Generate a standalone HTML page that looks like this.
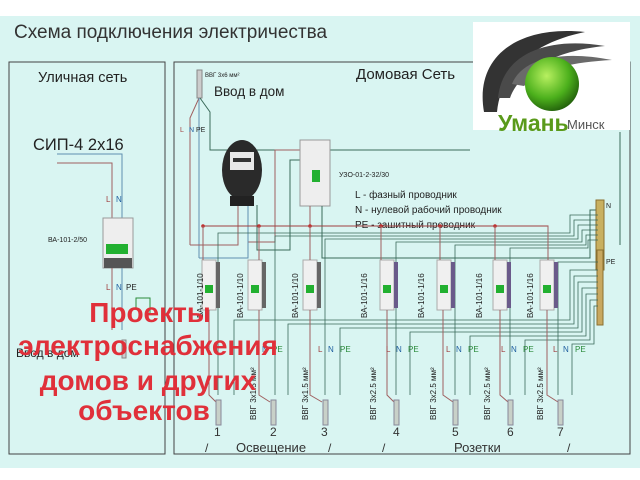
<!DOCTYPE html>
<html><head><meta charset="utf-8"><style>
html,body{margin:0;padding:0;background:#fff;}
svg{display:block;font-family:"Liberation Sans",sans-serif;}
</style></head><body>
<svg width="640" height="480" viewBox="0 0 640 480" xmlns="http://www.w3.org/2000/svg">
<defs>
<radialGradient id="g" cx="0.4" cy="0.35" r="0.7"><stop offset="0" stop-color="#b8f060"/><stop offset="0.6" stop-color="#4cb01c"/><stop offset="1" stop-color="#1f5a0a"/></radialGradient>
</defs>
<rect x="0" y="16" width="640" height="452" fill="#d9f5f2"/>
<text x="14" y="38" font-size="19" fill="#333">Схема подключения электричества</text>
<rect x="9" y="62" width="156" height="392" fill="none" stroke="#444" stroke-width="1"/>
<rect x="174" y="62" width="456" height="392" fill="none" stroke="#444" stroke-width="1"/>
<text x="38" y="82" font-size="14.5" fill="#222">Уличная сеть</text>
<text x="356" y="79" font-size="15" fill="#222">Домовая Сеть</text>
<text x="33" y="150" font-size="16.5" fill="#222">СИП-4   2x16</text>
<polyline points="57,163 112,163 112,220" fill="none" stroke="#a06060" stroke-width="1"/>
<polyline points="57,154 122,154 122,220" fill="none" stroke="#6090b0" stroke-width="1"/>
<text x="106" y="202" font-size="8" fill="#a04040">L</text><text x="116" y="202" font-size="8" fill="#2060a0">N</text>
<rect x="103" y="218" width="30" height="50" fill="#eee" stroke="#999"/>
<rect x="106" y="244" width="22" height="10" fill="#22b030"/>
<rect x="104" y="258" width="28" height="10" fill="#555"/>
<text x="48" y="242" font-size="7" fill="#222">ВА-101-2/50</text>
<line x1="112" y1="268" x2="112" y2="330" stroke="#a06060"/><line x1="122" y1="268" x2="122" y2="330" stroke="#6090b0"/>
<text x="106" y="290" font-size="8" fill="#a04040">L</text><text x="116" y="290" font-size="8" fill="#2060a0">N</text><text x="126" y="290" font-size="8" fill="#222">PE</text>
<polyline points="136,310 136,298 150,298 150,315" fill="none" stroke="#2a8a3a"/>
<rect x="122" y="340" width="4" height="18" fill="#ccc" stroke="#888"/>
<rect x="197" y="70" width="5" height="28" fill="#ccc" stroke="#888"/>
<text x="205" y="77" font-size="6" fill="#222">ВВГ 3x6 мм²</text>
<text x="214" y="96" font-size="13.5" fill="#222">Ввод в дом</text>
<polyline points="199,98 190,118 190,245" fill="none" stroke="#a06060"/>
<polyline points="199,98 199,258" fill="none" stroke="#6090b0"/>
<polyline points="200,98 210,112 210,150 470,150" fill="none" stroke="#3a6a5a"/>
<line x1="620" y1="132" x2="620" y2="245" stroke="#3a6a5a"/>
<text x="180" y="132" font-size="7" fill="#a04040">L</text><text x="189" y="132" font-size="7" fill="#2060a0">N</text><text x="196" y="132" font-size="7" fill="#222">PE</text>
<polyline points="190,245 238,245 238,205" fill="none" stroke="#a06060"/>
<polyline points="248,205 248,242 275,242 275,150 310,150 310,200" fill="none" stroke="#a06060"/>
<polyline points="199,258 248,258 248,205" fill="none" stroke="#6090b0"/>
<polyline points="257,205 257,250 290,250 290,160 320,160" fill="none" stroke="#3a6a5a"/>
<ellipse cx="242" cy="170" rx="20" ry="30" fill="#2a2a2a"/>
<rect x="230" y="152" width="24" height="18" fill="#e8e8e8"/>
<rect x="233" y="158" width="18" height="4" fill="#333"/>
<rect x="230" y="196" width="24" height="10" fill="#222"/>
<rect x="300" y="140" width="30" height="66" fill="#eee" stroke="#999"/>
<rect x="312" y="170" width="8" height="12" fill="#22b030"/>
<text x="339" y="177" font-size="7" fill="#222">УЗО-01-2-32/30</text>
<text x="355" y="198" font-size="10" fill="#222">L - фазный проводник</text>
<text x="355" y="213" font-size="10" fill="#222">N - нулевой рабочий проводник</text>
<text x="355" y="228" font-size="10" fill="#222">PE - зашитный проводник</text>
<polyline points="322,206 322,258 590,258 590,210 598,210" fill="none" stroke="#3a6a5a"/>
<line x1="310" y1="206" x2="310" y2="226" stroke="#a06060"/>
<rect x="596" y="200" width="8" height="70" fill="#c8b060" stroke="#8a7030"/>
<text x="606" y="208" font-size="7" fill="#222">N</text>
<rect x="597" y="250" width="6" height="75" fill="#c8a860" stroke="#8a7030"/>
<text x="606" y="264" font-size="7" fill="#222">PE</text>
<polyline points="203,226 548,226 548,230" fill="none" stroke="#a04040"/>
<g fill="#c03030"><circle cx="203" cy="226" r="1.8"/><circle cx="259" cy="226" r="1.8"/><circle cx="310" cy="226" r="1.8"/><circle cx="381" cy="226" r="1.8"/><circle cx="440" cy="226" r="1.8"/><circle cx="495" cy="226" r="1.8"/></g>
<g fill="none" stroke="#3a6a5a" stroke-width="0.8">
<polyline points="598,215 570,215 570,233 218,233 218,395"/>
<polyline points="598,220 574,220 574,236 275,236 275,395"/>
<polyline points="598,225 578,225 578,239 325,239 325,395"/>
<polyline points="598,230 582,230 582,242 396,242 396,395"/>
<polyline points="598,235 586,235 586,245 455,245 455,395"/>
<polyline points="598,240 588,240 588,248 510,248 510,395"/>
<polyline points="598,262 558,262 558,395"/>
<polyline points="598,270 570,270 570,320 234,320 234,395"/>
<polyline points="598,276 574,276 574,324 288,324 288,395"/>
<polyline points="598,282 578,282 578,328 340,328 340,395"/>
<polyline points="598,288 582,288 582,332 410,332 410,395"/>
<polyline points="598,294 586,294 586,336 470,336 470,395"/>
<polyline points="598,300 590,300 590,340 525,340 525,395"/>
<polyline points="598,306 594,306 594,344 572,344 572,395"/>
</g>
<g>
<g transform="translate(202,260)"><rect width="14" height="50" fill="#f0f0f0" stroke="#aaa"/><rect x="14" y="2" width="4" height="46" fill="#666"/><rect x="3" y="25" width="8" height="8" fill="#22b030"/></g>
<g transform="translate(248,260)"><rect width="14" height="50" fill="#f0f0f0" stroke="#aaa"/><rect x="14" y="2" width="4" height="46" fill="#666"/><rect x="3" y="25" width="8" height="8" fill="#22b030"/></g>
<g transform="translate(303,260)"><rect width="14" height="50" fill="#f0f0f0" stroke="#aaa"/><rect x="14" y="2" width="4" height="46" fill="#666"/><rect x="3" y="25" width="8" height="8" fill="#22b030"/></g>
<g transform="translate(380,260)"><rect width="14" height="50" fill="#f0f0f0" stroke="#aaa"/><rect x="14" y="2" width="4" height="46" fill="#6a5a8a"/><rect x="3" y="25" width="8" height="8" fill="#22b030"/></g>
<g transform="translate(437,260)"><rect width="14" height="50" fill="#f0f0f0" stroke="#aaa"/><rect x="14" y="2" width="4" height="46" fill="#6a5a8a"/><rect x="3" y="25" width="8" height="8" fill="#22b030"/></g>
<g transform="translate(493,260)"><rect width="14" height="50" fill="#f0f0f0" stroke="#aaa"/><rect x="14" y="2" width="4" height="46" fill="#6a5a8a"/><rect x="3" y="25" width="8" height="8" fill="#22b030"/></g>
<g transform="translate(540,260)"><rect width="14" height="50" fill="#f0f0f0" stroke="#aaa"/><rect x="14" y="2" width="4" height="46" fill="#6a5a8a"/><rect x="3" y="25" width="8" height="8" fill="#22b030"/></g>
</g>
<g stroke="#a06060" fill="none">
<line x1="203" y1="226" x2="203" y2="260"/><line x1="259" y1="226" x2="259" y2="260"/><line x1="310" y1="226" x2="310" y2="260"/><line x1="381" y1="226" x2="381" y2="260"/><line x1="440" y1="226" x2="440" y2="260"/><line x1="495" y1="226" x2="495" y2="260"/><line x1="548" y1="226" x2="548" y2="260"/>
<polyline points="209,310 209,395 216,402"/><polyline points="259,310 259,395 270,402"/><polyline points="310,310 310,395 322,402"/><polyline points="387,310 387,395 394,402"/><polyline points="443,310 443,395 453,402"/><polyline points="500,310 500,395 508,402"/><polyline points="547,310 547,395 558,402"/>
</g>
<g font-size="8" fill="#222">
<text transform="translate(203,318) rotate(-90)">ВА-101-1/10</text>
<text transform="translate(243,318) rotate(-90)">ВА-101-1/10</text>
<text transform="translate(298,318) rotate(-90)">ВА-101-1/10</text>
<text transform="translate(367,318) rotate(-90)">ВА-101-1/16</text>
<text transform="translate(424,318) rotate(-90)">ВА-101-1/16</text>
<text transform="translate(482,318) rotate(-90)">ВА-101-1/16</text>
<text transform="translate(533,318) rotate(-90)">ВА-101-1/16</text>
<text transform="translate(256,420) rotate(-90)">ВВГ 3x1.5 мм²</text>
<text transform="translate(308,420) rotate(-90)">ВВГ 3x1.5 мм²</text>
<text transform="translate(376,420) rotate(-90)">ВВГ 3x2.5 мм²</text>
<text transform="translate(436,420) rotate(-90)">ВВГ 3x2.5 мм²</text>
<text transform="translate(490,420) rotate(-90)">ВВГ 3x2.5 мм²</text>
<text transform="translate(543,420) rotate(-90)">ВВГ 3x2.5 мм²</text>
</g>
<g font-size="8">
<text x="262" y="352" fill="#2060a0">N</text><text x="272" y="352" fill="#2a8a3a">PE</text>
<text x="318" y="352" fill="#a04040">L</text><text x="328" y="352" fill="#2060a0">N</text><text x="340" y="352" fill="#2a8a3a">PE</text>
<text x="386" y="352" fill="#a04040">L</text><text x="396" y="352" fill="#2060a0">N</text><text x="408" y="352" fill="#2a8a3a">PE</text>
<text x="446" y="352" fill="#a04040">L</text><text x="456" y="352" fill="#2060a0">N</text><text x="468" y="352" fill="#2a8a3a">PE</text>
<text x="501" y="352" fill="#a04040">L</text><text x="511" y="352" fill="#2060a0">N</text><text x="523" y="352" fill="#2a8a3a">PE</text>
<text x="553" y="352" fill="#a04040">L</text><text x="563" y="352" fill="#2060a0">N</text><text x="575" y="352" fill="#2a8a3a">PE</text>
</g>
<g fill="#c8d0c8" stroke="#889">
<rect x="216" y="400" width="5" height="25"/><rect x="271" y="400" width="5" height="25"/><rect x="323" y="400" width="5" height="25"/><rect x="394" y="400" width="5" height="25"/><rect x="453" y="400" width="5" height="25"/><rect x="508" y="400" width="5" height="25"/><rect x="558" y="400" width="5" height="25"/>
</g>
<g font-size="12" fill="#333">
<text x="214" y="436">1</text><text x="270" y="436">2</text><text x="321" y="436">3</text><text x="393" y="436">4</text><text x="452" y="436">5</text><text x="507" y="436">6</text><text x="557" y="436">7</text>
<text x="205" y="452">/</text><text x="236" y="452" font-size="13">Освещение</text><text x="328" y="452">/</text><text x="382" y="452">/</text><text x="454" y="452" font-size="13">Розетки</text><text x="567" y="452">/</text>
</g>
<text x="16" y="357" font-size="12" fill="#222">Ввод в дом</text>
<rect x="473" y="22" width="157" height="108" fill="#fff"/>
<path d="M484,112 C474,55 520,25 585,32 C545,40 502,62 497,112 Z" fill="#333"/>
<path d="M498,98 C502,55 545,36 605,46 C562,50 522,66 510,98 Z" fill="#4a4a4a"/>
<path d="M512,84 C522,58 562,50 612,60 C575,62 542,68 524,86 Z" fill="#6a6a6a"/>
<circle cx="552" cy="84" r="27" fill="url(#g)"/>
<text x="498" y="131" font-size="23" font-weight="bold" fill="#5a9a1a">Умань</text>
<text x="567" y="129" font-size="13" fill="#555">Минск</text>
<g font-size="28" font-weight="bold" fill="#e0303a" text-anchor="middle">
<text x="150" y="322">Проекты</text>
<text x="148" y="355">электроснабжения</text>
<text x="148" y="390">домов и других</text>
<text x="144" y="420">объектов</text>
</g>
</svg>
</body></html>
